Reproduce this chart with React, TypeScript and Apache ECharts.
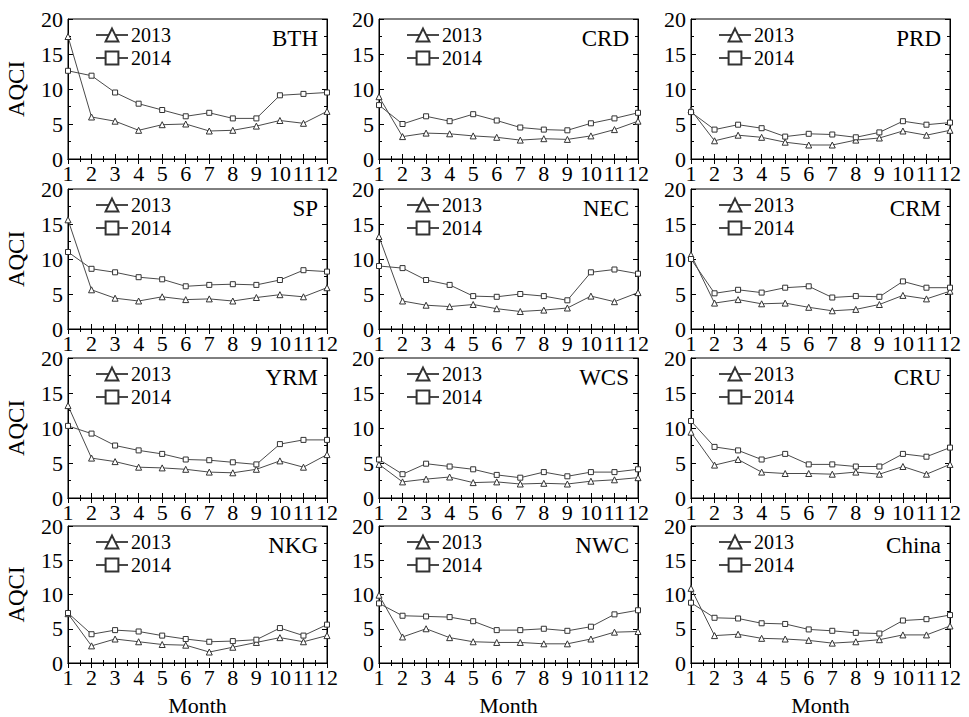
import React, { useEffect, useRef } from "react";
import * as echarts from "echarts";

const months = [1, 2, 3, 4, 5, 6, 7, 8, 9, 10, 11, 12];
const regions = ["BTH", "CRD", "PRD", "SP", "NEC", "CRM", "YRM", "WCS", "CRU", "NKG", "NWC", "China"];
const yTicks = [0, 5, 10, 15, 20];

const bth2013 = [17.5, 6.0, 5.4, 4.1, 4.9, 5.0, 4.0, 4.1, 4.7, 5.5, 5.1, 6.8];
const bth2014 = [12.6, 11.9, 9.5, 7.9, 7.0, 6.1, 6.6, 5.8, 5.8, 9.1, 9.3, 9.5];
const crd2013 = [8.9, 3.2, 3.7, 3.6, 3.3, 3.1, 2.7, 2.9, 2.8, 3.3, 4.2, 5.4];
const crd2014 = [7.7, 5.0, 6.1, 5.4, 6.4, 5.5, 4.5, 4.2, 4.1, 5.1, 5.8, 6.6];
const prd2013 = [7.0, 2.6, 3.4, 3.1, 2.4, 2.0, 2.0, 2.7, 3.0, 4.0, 3.4, 4.1];
const prd2014 = [6.7, 4.2, 4.9, 4.4, 3.2, 3.6, 3.5, 3.1, 3.8, 5.4, 4.9, 5.2];
const sp2013 = [15.6, 5.6, 4.4, 4.0, 4.6, 4.2, 4.3, 4.0, 4.5, 4.9, 4.6, 5.9];
const sp2014 = [11.0, 8.6, 8.1, 7.4, 7.1, 6.1, 6.3, 6.4, 6.3, 7.0, 8.4, 8.2];
const nec2013 = [13.2, 4.0, 3.4, 3.2, 3.5, 2.9, 2.5, 2.7, 3.0, 4.7, 3.9, 5.2];
const nec2014 = [9.0, 8.7, 7.0, 6.3, 4.7, 4.6, 5.0, 4.7, 4.1, 8.1, 8.5, 7.9];
const crm2013 = [10.6, 3.7, 4.2, 3.6, 3.7, 3.1, 2.6, 2.8, 3.5, 4.8, 4.3, 5.4];
const crm2014 = [10.0, 5.1, 5.6, 5.2, 5.9, 6.1, 4.5, 4.7, 4.6, 6.8, 5.9, 5.9];
const yrm2013 = [13.2, 5.7, 5.2, 4.4, 4.3, 4.1, 3.7, 3.6, 4.1, 5.3, 4.4, 6.2];
const yrm2014 = [10.3, 9.2, 7.5, 6.8, 6.3, 5.5, 5.4, 5.1, 4.8, 7.7, 8.3, 8.3];
const wcs2013 = [4.8, 2.3, 2.7, 3.0, 2.2, 2.3, 2.0, 2.1, 2.0, 2.4, 2.6, 2.9];
const wcs2014 = [5.5, 3.4, 4.9, 4.5, 4.1, 3.3, 2.9, 3.7, 3.1, 3.7, 3.7, 4.1];
const cru2013 = [9.4, 4.7, 5.5, 3.7, 3.5, 3.5, 3.4, 3.7, 3.4, 4.5, 3.4, 4.8];
const cru2014 = [11.0, 7.3, 6.8, 5.5, 6.3, 4.8, 4.8, 4.5, 4.5, 6.3, 5.9, 7.2];
const nkg2013 = [7.2, 2.5, 3.5, 3.1, 2.7, 2.6, 1.6, 2.3, 3.0, 3.7, 3.1, 4.0];
const nkg2014 = [7.3, 4.2, 4.8, 4.6, 4.0, 3.5, 3.1, 3.2, 3.4, 5.1, 4.0, 5.6];
const nwc2013 = [9.9, 3.8, 5.0, 3.7, 3.1, 3.0, 3.0, 2.8, 2.8, 3.5, 4.5, 4.6];
const nwc2014 = [8.7, 6.9, 6.8, 6.7, 6.1, 4.8, 4.8, 5.0, 4.7, 5.3, 7.1, 7.7];
const china2013 = [10.9, 4.0, 4.2, 3.6, 3.5, 3.3, 2.9, 3.1, 3.4, 4.1, 4.1, 5.4];
const china2014 = [8.8, 6.6, 6.5, 5.8, 5.7, 4.9, 4.7, 4.4, 4.3, 6.2, 6.4, 7.0];

const values2013 = [bth2013, crd2013, prd2013, sp2013, nec2013, crm2013, yrm2013, wcs2013, cru2013, nkg2013, nwc2013, china2013];
const values2014 = [bth2014, crd2014, prd2014, sp2014, nec2014, crm2014, yrm2014, wcs2014, cru2014, nkg2014, nwc2014, china2014];

const FONT = "Liberation Serif";
const colLeft = [68, 379, 691];
const rowTop = [19, 189, 358, 526];
const GW = 259;
const GH = 140;

export default function App() {
  const ref = useRef<HTMLDivElement>(null);
  useEffect(() => {
    if (!ref.current) return;
    const chart = echarts.init(ref.current, null, { renderer: "svg" });
    const grid: any[] = [];
    const xAxis: any[] = [];
    const yAxis: any[] = [];
    const series: any[] = [];
    const legend: any[] = [];
    const graphic: any[] = [];
    regions.forEach((name, i) => {
      const r = Math.floor(i / 3);
      const c = i % 3;
      const left = colLeft[c];
      const top = rowTop[r];
      grid.push({ left, top, width: GW, height: GH, show: true, borderColor: "#000", borderWidth: 1, backgroundColor: "transparent" });
      const tickStyle = { show: true, inside: true, length: 5, lineStyle: { color: "#000", width: 1 } };
      const minor = { show: true, splitNumber: 2, length: 3, lineStyle: { color: "#000", width: 1 } };
      xAxis.push({
        type: "value", gridIndex: i, min: 1, max: 12, interval: 1, position: "bottom",
        axisLine: { show: true, lineStyle: { color: "#000", width: 1 } },
        axisTick: tickStyle, minorTick: minor, splitLine: { show: false },
        axisLabel: { show: true, margin: 3, fontSize: 22, fontFamily: FONT, color: "#000", interval: 0, showMinLabel: true, showMaxLabel: true, hideOverlap: false },
        name: r === 3 ? "Month" : "", nameLocation: "middle", nameGap: 31,
        nameTextStyle: { fontSize: 22, fontFamily: FONT, color: "#000" },
      });
      xAxis.push({
        type: "value", gridIndex: i, min: 1, max: 12, interval: 1, position: "top",
        axisLine: { show: true, lineStyle: { color: "#000", width: 1 } },
        axisTick: tickStyle, minorTick: minor, splitLine: { show: false }, axisLabel: { show: false },
      });
      yAxis.push({
        type: "value", gridIndex: i, min: yTicks[0], max: yTicks[yTicks.length - 1], interval: 5, position: "left",
        axisLine: { show: true, lineStyle: { color: "#000", width: 1 } },
        axisTick: tickStyle, minorTick: minor, splitLine: { show: false },
        axisLabel: { show: true, margin: 5, fontSize: 22, fontFamily: FONT, color: "#000" },
        name: c === 0 ? "AQCI" : "", nameLocation: "middle", nameGap: 40, nameRotate: 90,
        nameTextStyle: { fontSize: 23, fontFamily: FONT, color: "#000" },
      });
      yAxis.push({
        type: "value", gridIndex: i, min: 0, max: 20, interval: 5, position: "right",
        axisLine: { show: true, lineStyle: { color: "#000", width: 1 } },
        axisTick: tickStyle, minorTick: minor, splitLine: { show: false }, axisLabel: { show: false },
      });
      const mk = (vals: number[], nm: string, symbol: string, size: number) => ({
        type: "line", name: nm, xAxisIndex: i * 2, yAxisIndex: i * 2,
        data: months.map((m, k) => [m, vals[k]]),
        symbol, symbolSize: size, showAllSymbol: true,
        lineStyle: { color: "#4a4a4a", width: 1 },
        itemStyle: { color: "#fff", borderColor: "#333", borderWidth: 1 },
        emphasis: { disabled: true }, z: 3,
      });
      series.push(mk(values2013[i], "2013", "triangle", 6));
      series.push(mk(values2014[i], "2014", "rect", 5));
      legend.push({
        left: left + 27, top: top + 6, padding: 0, orient: "vertical", itemGap: 3, itemWidth: 32, itemHeight: 16,
        data: ["2013", "2014"], selectedMode: false,
        textStyle: { fontSize: 20, fontFamily: FONT, color: "#000", padding: [0, 0, 0, -2] },
      });
      graphic.push({
        type: "text", x: left + GW - 9, y: top + 19,
        style: { text: name, align: "right", verticalAlign: "middle", fontSize: 23, fontFamily: FONT, fill: "#000" },
      });
    });
    chart.setOption({
      animation: false,
      backgroundColor: "#fff",
      grid, xAxis, yAxis, series, legend, graphic,
    });
    return () => chart.dispose();
  }, []);
  return <div ref={ref} style={{ width: 969, height: 717, position: "absolute", left: 0, top: 0 }} />;
}
